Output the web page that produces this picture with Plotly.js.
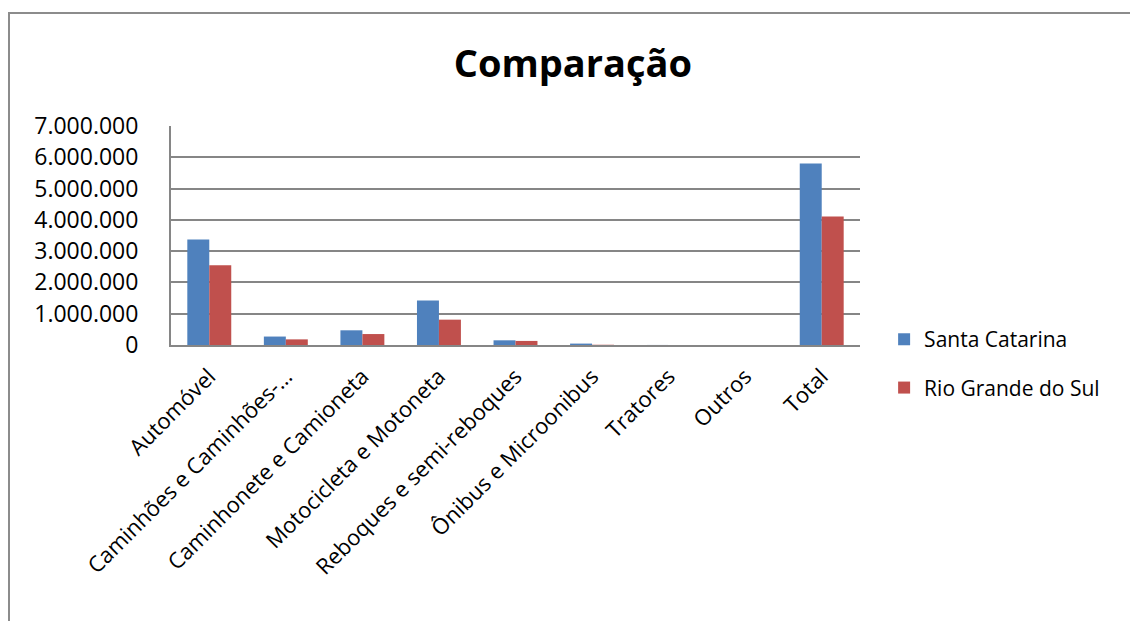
<!DOCTYPE html>
<html>
<head>
<meta charset="utf-8">
<script src="https://cdn.plot.ly/plotly-3.0.1.min.js"></script>
<style>
  html, body { margin: 0; padding: 0; background: #ffffff; overflow: hidden; }
  #wrap { position: relative; width: 1130px; height: 621px; }
  #chart { position: absolute; left: 0; top: 0; width: 1130px; height: 621px; }
  #frame {
    position: absolute; left: 8px; top: 12px; width: 1200px; height: 700px;
    border-left: 2px solid #8c8c8c; border-top: 2px solid #8c8c8c;
    pointer-events: none;
  }
</style>
</head>
<body>
<div id="wrap">
  <div id="chart"></div>
  <div id="frame"></div>
</div>
<script>
// Frota de veículos por tipo
const categories = [
  'Automóvel',
  'Caminhões e Caminhões-…',
  'Caminhonete e Camioneta',
  'Motocicleta e Motoneta',
  'Reboques e semi-reboques',
  'Ônibus e Microonibus',
  'Tratores',
  'Outros',
  'Total'
];
const santaCatarina = [3370000, 270000, 470000, 1420000, 150000, 45000, 1500, 1000, 5800000];
const rioGrandeDoSul = [2550000, 180000, 350000, 810000, 130000, 8000, 1000, 800, 4110000];
const seriesNames = ['Santa Catarina', 'Rio Grande do Sul'];
const yTicks = [0, 1000000, 2000000, 3000000, 4000000, 5000000, 6000000, 7000000];

const FONT = 'Open Sans, sans-serif';

const traces = [
  {
    type: 'bar', name: seriesNames[0], x: categories, y: santaCatarina,
    legendgroup: 'a',
    marker: { color: '#4F81BD', line: { width: 0 } }
  },
  {
    type: 'bar', name: seriesNames[1], x: categories, y: rioGrandeDoSul,
    legendgroup: 'b',
    marker: { color: '#C0504D', line: { width: 0 } }
  }
];

const layout = {
  width: 1130, height: 621,
  margin: { l: 171, r: 270, t: 126, b: 276, pad: 0 },
  paper_bgcolor: 'rgba(0,0,0,0)',
  plot_bgcolor: '#ffffff',
  separators: ',.',
  barmode: 'group',
  bargap: 0.426,
  bargroupgap: 0,
  font: { family: FONT, color: '#000000' },
  title: {
    text: '<b>Comparação</b>',
    font: { family: FONT, size: 38, color: '#000000' },
    x: 0.507, xref: 'container', xanchor: 'center',
    y: 0.898, yref: 'container', yanchor: 'middle'
  },
  xaxis: {
    type: 'category',
    tickangle: -45,
    tickfont: { family: FONT, size: 22, color: '#000000' },
    showline: true, linecolor: '#868686', linewidth: 2,
    showgrid: false, ticks: '',
    ticklabelstandoff: 8,
    fixedrange: true
  },
  yaxis: {
    range: [0, 7000000],
    tickvals: yTicks,
    tickformat: ',d',
    tickfont: { family: FONT, size: 23, color: '#000000' },
    showgrid: true, gridcolor: '#868686', gridwidth: 2,
    zeroline: false,
    showline: true, linecolor: '#868686', linewidth: 2,
    ticks: '',
    ticklabelstandoff: 26,
    fixedrange: true
  },
  showlegend: true,
  legend: {
    x: 1.035, xanchor: 'left',
    y: -0.085, yanchor: 'middle',
    traceorder: 'grouped',
    tracegroupgap: 18,
    font: { family: FONT, size: 21, color: '#000000' },
    bgcolor: 'rgba(0,0,0,0)'
  }
};

Plotly.newPlot('chart', traces, layout, { displayModeBar: false, staticPlot: true });
</script>
</body>
</html>
